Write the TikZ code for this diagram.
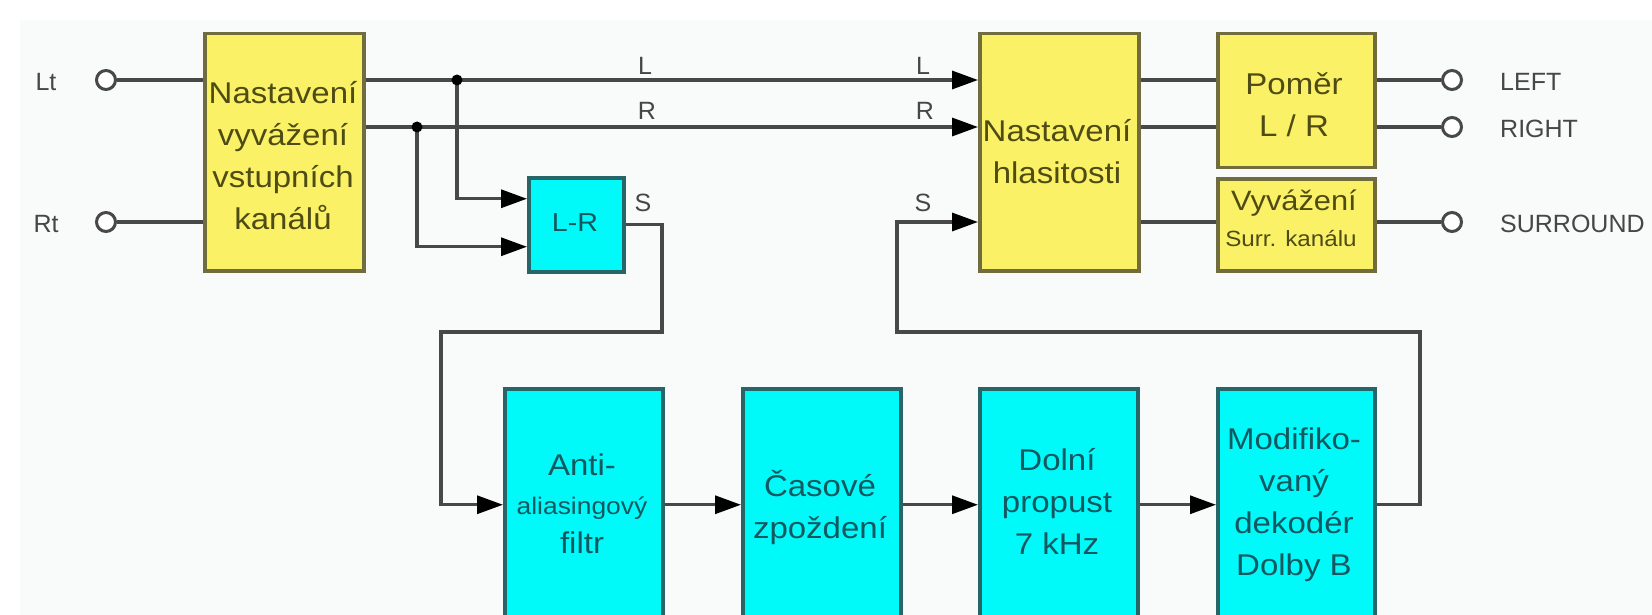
\documentclass[tikz,border=0pt]{standalone}
\usepackage{fontspec}
\setmainfont{Liberation Sans}
\newfontfamily\boxfont[FakeStretch=1.1]{Liberation Sans}
\usetikzlibrary{arrows.meta}
\definecolor{bgcol}{RGB}{249,250,250}
\definecolor{yfill}{RGB}{250,241,102}
\definecolor{ydraw}{RGB}{112,108,62}
\definecolor{ytext}{RGB}{78,76,20}
\definecolor{cfill}{RGB}{0,250,250}
\definecolor{cdraw}{RGB}{38,102,104}
\definecolor{ctext}{RGB}{18,88,96}
\definecolor{wirecol}{RGB}{72,72,72}
\definecolor{labcol}{RGB}{70,70,70}
\begin{document}
\begin{tikzpicture}[x=1pt,y=-1pt,
  ybox/.style={draw=ydraw, fill=yfill, line width=3.5pt, inner sep=0pt, anchor=north west},
  cbox/.style={draw=cdraw, fill=cfill, line width=3.5pt, inner sep=0pt, anchor=north west},
  btext/.style={align=center, inner sep=0pt, font=\boxfont\fontsize{30}{42}\selectfont},
  ytxt/.style={btext, text=ytext},
  ctxt/.style={btext, text=ctext},
  lab/.style={inner sep=0pt, text=labcol, font=\fontsize{25}{30}\selectfont},
  wire/.style={draw=wirecol, line width=3.2pt},
  arr/.style={-{Triangle[length=26pt,width=18pt,color=black]}},
  term/.style={circle, draw=wirecol, fill=white, line width=3pt, minimum size=19pt, inner sep=0pt},
  jdot/.style={fill=black}
]
\useasboundingbox (0,0) rectangle (1652,615);
\clip (0,0) rectangle (1652,615);
\fill[white] (0,0) rectangle (1652,615);
\fill[bgcol] (20,20) rectangle (1652,615);

% rows
\coordinate (yL) at (0,80);
\coordinate (yR) at (0,127);
\coordinate (yS) at (0,222);

% boxes
\node[ybox, minimum width=159pt, minimum height=237pt] (b1) at (203,32) {};
\node[cbox, minimum width=95pt, minimum height=94pt] (lr) at (527,176) {};
\node[ybox, minimum width=159pt, minimum height=237pt] (b2) at (978,32) {};
\node[ybox, minimum width=157pt, minimum height=134pt] (pm) at (1216,32) {};
\node[ybox, minimum width=157pt, minimum height=92pt] (vy) at (1216,177) {};
\node[cbox, minimum width=158pt, minimum height=232pt] (a1) at (503,387) {};
\node[cbox, minimum width=158pt, minimum height=232pt] (a2) at (741,387) {};
\node[cbox, minimum width=158pt, minimum height=232pt] (a3) at (978,387) {};
\node[cbox, minimum width=157pt, minimum height=232pt] (a4) at (1216,387) {};

% terminals
\node[term] (tLt) at (106,80) {};
\node[term] (tRt) at (106,222) {};
\node[term] (oL) at (1452,80) {};
\node[term] (oR) at (1452,127) {};
\node[term] (oS) at (1452,222) {};

% junctions and bends
\coordinate (jL) at (457,80);
\coordinate (jR) at (417,127);
\coordinate (s1) at (662,332);
\coordinate (s2) at (441,332);
\coordinate (r1) at (1420,332);
\coordinate (r2) at (897,332);

% wires
\draw[wire] (tLt.east) -- (tLt.east -| b1.west);
\draw[wire] (tRt.east) -- (tRt.east -| b1.west);
\draw[wire, arr] (b1.east |- yL) -- (b2.west |- yL);
\draw[wire, arr] (b1.east |- yR) -- (b2.west |- yR);
\draw[wire, arr] (jL) |- ([yshift=26pt]lr.west);
\draw[wire, arr] (jR) |- ([yshift=-22pt]lr.west);
\fill[jdot] (jL) circle (5.5pt);
\fill[jdot] (jR) circle (5.5pt);
\draw[wire, arr] (lr.east) -| (s1) -- (s2) |- (a1.west);
\draw[wire, arr] (a1.east) -- (a2.west);
\draw[wire, arr] (a2.east) -- (a3.west);
\draw[wire, arr] (a3.east) -- (a4.west);
\draw[wire, arr] (a4.east) -| (r1) -- (r2) |- (b2.west |- yS);
\draw[wire] (b2.east |- yL) -- (pm.west |- yL);
\draw[wire] (b2.east |- yR) -- (pm.west |- yR);
\draw[wire] (b2.east |- yS) -- (vy.west |- yS);
\draw[wire] (pm.east |- yL) -- (oL.west);
\draw[wire] (pm.east |- yR) -- (oR.west);
\draw[wire] (vy.east |- yS) -- (oS.west);

% box texts
\node[ytxt] (b1t) at (283,156) {Nastavení\\vyvážení\\vstupních\\kanálů};
\node[ytxt] (b2t) at (1057,152) {Nastavení\\hlasitosti};
\node[ytxt] (pmt) at (1294,105) {Poměr\\L / R};
\node[ytxt, font=\boxfont\fontsize{28}{34}\selectfont] (vyt1) at (1294,203) {Vyvážení};
\node[ytxt, font=\boxfont\fontsize{22}{26}\selectfont] (vyt2) at (1291,239) {Surr. kanálu};
\node[ctxt, font=\boxfont\fontsize{26}{30}\selectfont] (lrt) at (575,223) {L-R};
\node[ctxt] (a1t) at (582,504) {Anti-\\[-3pt]{\fontsize{24}{30}\selectfont aliasingový}\\[-3pt]filtr};
\node[ctxt] (a2t) at (820,507) {Časové\\zpoždení};
\node[ctxt] (a3t) at (1057,501) {Dolní\\propust\\7 kHz};
\node[ctxt] (a4t) at (1294,505) {Modifiko-\\vaný\\dekodér\\Dolby B};

% labels
\node[lab] (lLt) at (46,82) {Lt};
\node[lab] (lRt) at (46,224) {Rt};
\node[lab] (lL1) at (645,66) {L};
\node[lab] (lR1) at (647,111) {R};
\node[lab] (lL2) at (923,66) {L};
\node[lab] (lR2) at (925,111) {R};
\node[lab] (lS1) at (643,203) {S};
\node[lab] (lS2) at (923,203) {S};
\node[lab, anchor=west] (nL) at (1500,82) {LEFT};
\node[lab, anchor=west] (nR) at (1500,129) {RIGHT};
\node[lab, anchor=west] (nS) at (1500,224) {SURROUND};
\end{tikzpicture}
\end{document}
